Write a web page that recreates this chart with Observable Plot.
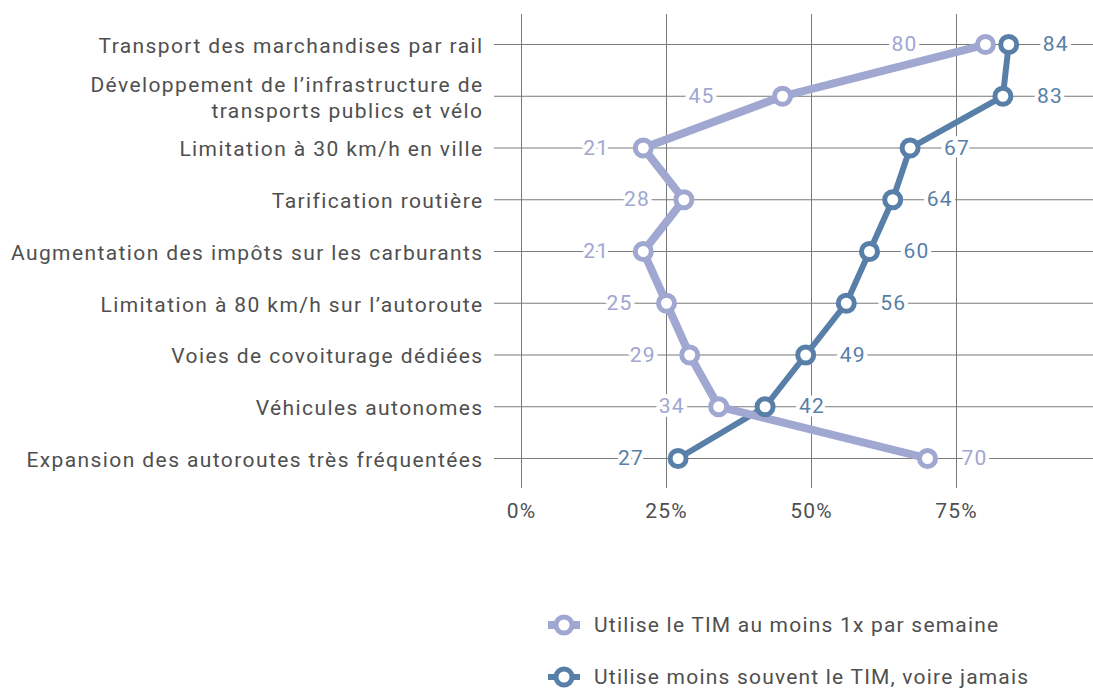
<!DOCTYPE html>
<html><head><meta charset="utf-8">
<script src="https://cdn.jsdelivr.net/npm/d3@7"></script>
<script src="https://cdn.jsdelivr.net/npm/@observablehq/plot@0.6"></script>
<style>
  body { margin: 0; background: #fff; font-family: Roboto, sans-serif; }
  #wrap { position: relative; width: 1093px; height: 691px; }
  #legend { position: absolute; left: 546px; top: 599px; }
  .item { height: 52px; display: flex; align-items: center; font-size: 21px; color: #4f4f4f; letter-spacing: 1.2px; white-space: nowrap; }
  .item svg { margin-right: 12px; }
</style></head>
<body><div id="wrap"><div id="chart"></div><div id="legend"></div></div>
<script>
const categories = [
  "Transport des marchandises par rail",
  "Développement de l’infrastructure de\ntransports publics et vélo",
  "Limitation à 30 km/h en ville",
  "Tarification routière",
  "Augmentation des impôts sur les carburants",
  "Limitation à 80 km/h sur l’autoroute",
  "Voies de covoiturage dédiées",
  "Véhicules autonomes",
  "Expansion des autoroutes très fréquentées"
];
const seriesNames = [
  "Utilise le TIM au moins 1x par semaine",
  "Utilise moins souvent le TIM, voire jamais"
];
const weekly = [80, 45, 21, 28, 21, 25, 29, 34, 70];
const lessOften = [84, 83, 67, 64, 60, 56, 49, 42, 27];
const xTicks = [0, 25, 50, 75];
const colors = ["#a0a7d1", "#587fa8"];

const rows = categories.flatMap((c, i) => {
  const a = weekly[i], b = lessOften[i];
  return [
    {cat: c, i, s: 0, value: a, left: a < b},
    {cat: c, i, s: 1, value: b, left: b <= a}
  ];
});
const gap = 34;
const nudged = d => d.s === 0 && d.i < 2; // labels placed further out in the original
const textOpts = {x: "value", y: "cat", text: d => String(d.value), fill: d => colors[d.s],
  fontSize: 21, stroke: "white", strokeWidth: 8, paintOrder: "stroke"};

const plot = Plot.plot({
  width: 1093,
  height: 540,
  marginLeft: 494,
  marginRight: 0,
  marginTop: 14,
  marginBottom: 52,
  style: {fontFamily: "Roboto, sans-serif", color: "#4f4f4f", background: "white"},
  x: {domain: [0, 100], range: [521, 1101]},
  y: {type: "point", domain: categories, padding: 0.58, round: false},
  marks: [
    Plot.ruleX(xTicks, {stroke: "#7a7a7a", strokeWidth: 1}),
    Plot.ruleY(categories, {y: d => d, stroke: "#7a7a7a", strokeWidth: 1}),
    Plot.axisX({ticks: xTicks, tickFormat: d => d + "%", tickSize: 0, tickPadding: 15, fontSize: 21, label: null}),
    Plot.axisY({tickSize: 0, tickPadding: 11, fontSize: 21, lineHeight: 1.25, label: null, className: "ylab"}),
    Plot.line(rows.filter(d => d.s === 1), {x: "value", y: "cat", stroke: colors[1], strokeWidth: 6, strokeLinejoin: "round"}),
    Plot.line(rows.filter(d => d.s === 0), {x: "value", y: "cat", stroke: colors[0], strokeWidth: 8, strokeLinejoin: "round"}),
    Plot.dot(rows, {x: "value", y: "cat", r: 8, fill: "white", stroke: d => colors[d.s], strokeWidth: 5}),
    Plot.text(rows.filter(d => d.left && !nudged(d)), {...textOpts, textAnchor: "end", dx: -gap}),
    Plot.text(rows.filter(d => d.left && nudged(d)), {...textOpts, textAnchor: "end", dx: -2 * gap}),
    Plot.text(rows.filter(d => !d.left), {...textOpts, textAnchor: "start", dx: gap})
  ]
});
plot.querySelectorAll("text").forEach(t => t.style.letterSpacing = "1.2px");
plot.querySelectorAll("[aria-label='y-axis tick label'] text").forEach(t => t.style.letterSpacing = "1.4px");
document.getElementById("chart").appendChild(plot);

const legend = document.getElementById("legend");
seriesNames.forEach((name, k) => {
  const item = document.createElement("div");
  item.className = "item";
  const sw = k === 0 ? 8 : 6;
  item.innerHTML = `<svg width="36" height="24"><line x1="2" x2="34" y1="12" y2="12" stroke="${colors[k]}" stroke-width="${sw}"/><circle cx="18" cy="12" r="8" fill="white" stroke="${colors[k]}" stroke-width="5"/></svg><span></span>`;
  item.querySelector("span").textContent = name;
  legend.appendChild(item);
});
</script>
</body></html>
